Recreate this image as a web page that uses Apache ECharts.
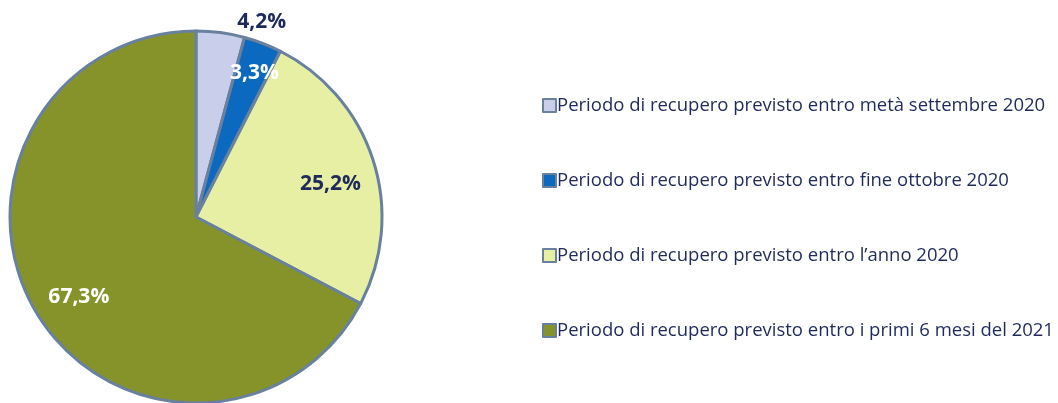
<!DOCTYPE html>
<html>
<head>
<meta charset="utf-8">
<script src="https://cdn.jsdelivr.net/npm/echarts@6/dist/echarts.min.js"></script>
<style>
  html, body { margin: 0; padding: 0; background: #fff; }
  #chart { width: 1058px; height: 403px; }
</style>
</head>
<body>
<div id="chart"></div>
<script>
// dati del grafico
var categories = [
  'Periodo di recupero previsto entro metà settembre 2020',
  'Periodo di recupero previsto entro fine ottobre 2020',
  'Periodo di recupero previsto entro l\u2019anno 2020',
  'Periodo di recupero previsto entro i primi 6 mesi del 2021'
];
var values = [4.2, 3.3, 25.2, 67.3];
var colors = ['#c9cfeb', '#0b69c0', '#e7efa5', '#86932a'];
var labelColors = ['#1f2a5a', '#ffffff', '#1f2a5a', '#ffffff'];
var labelOffsets = [[53, -100], [24, -54], [43, -4], [-35, 30]];

var chart = echarts.init(document.getElementById('chart'));

var seriesData = values.map(function (v, i) {
  return {
    name: categories[i],
    value: v,
    itemStyle: { color: colors[i] },
    label: { color: labelColors[i], offset: labelOffsets[i] }
  };
});

chart.setOption({
  animation: false,
  legend: {
    orient: 'vertical',
    left: 537,
    top: 91,
    itemGap: 56,
    itemWidth: 13,
    itemHeight: 13,
    icon: 'rect',
    itemStyle: { borderColor: '#6a819e', borderWidth: 2 },
    textStyle: { color: '#1f2a5a', fontSize: 18.5, fontFamily: 'Open Sans', padding: [0, 0, 0, -4] },
    data: categories
  },
  series: [{
    type: 'pie',
    center: [196, 217],
    radius: 186,
    startAngle: 90,
    clockwise: true,
    silent: true,
    itemStyle: { borderColor: '#6a819e', borderWidth: 3 },
    label: {
      position: 'inside',
      fontSize: 21,
      fontWeight: 'bold',
      fontFamily: 'Open Sans',
      formatter: function (p) {
        return p.value.toFixed(1).replace('.', ',') + '%';
      }
    },
    labelLine: { show: false },
    data: seriesData
  }]
});
</script>
</body>
</html>
